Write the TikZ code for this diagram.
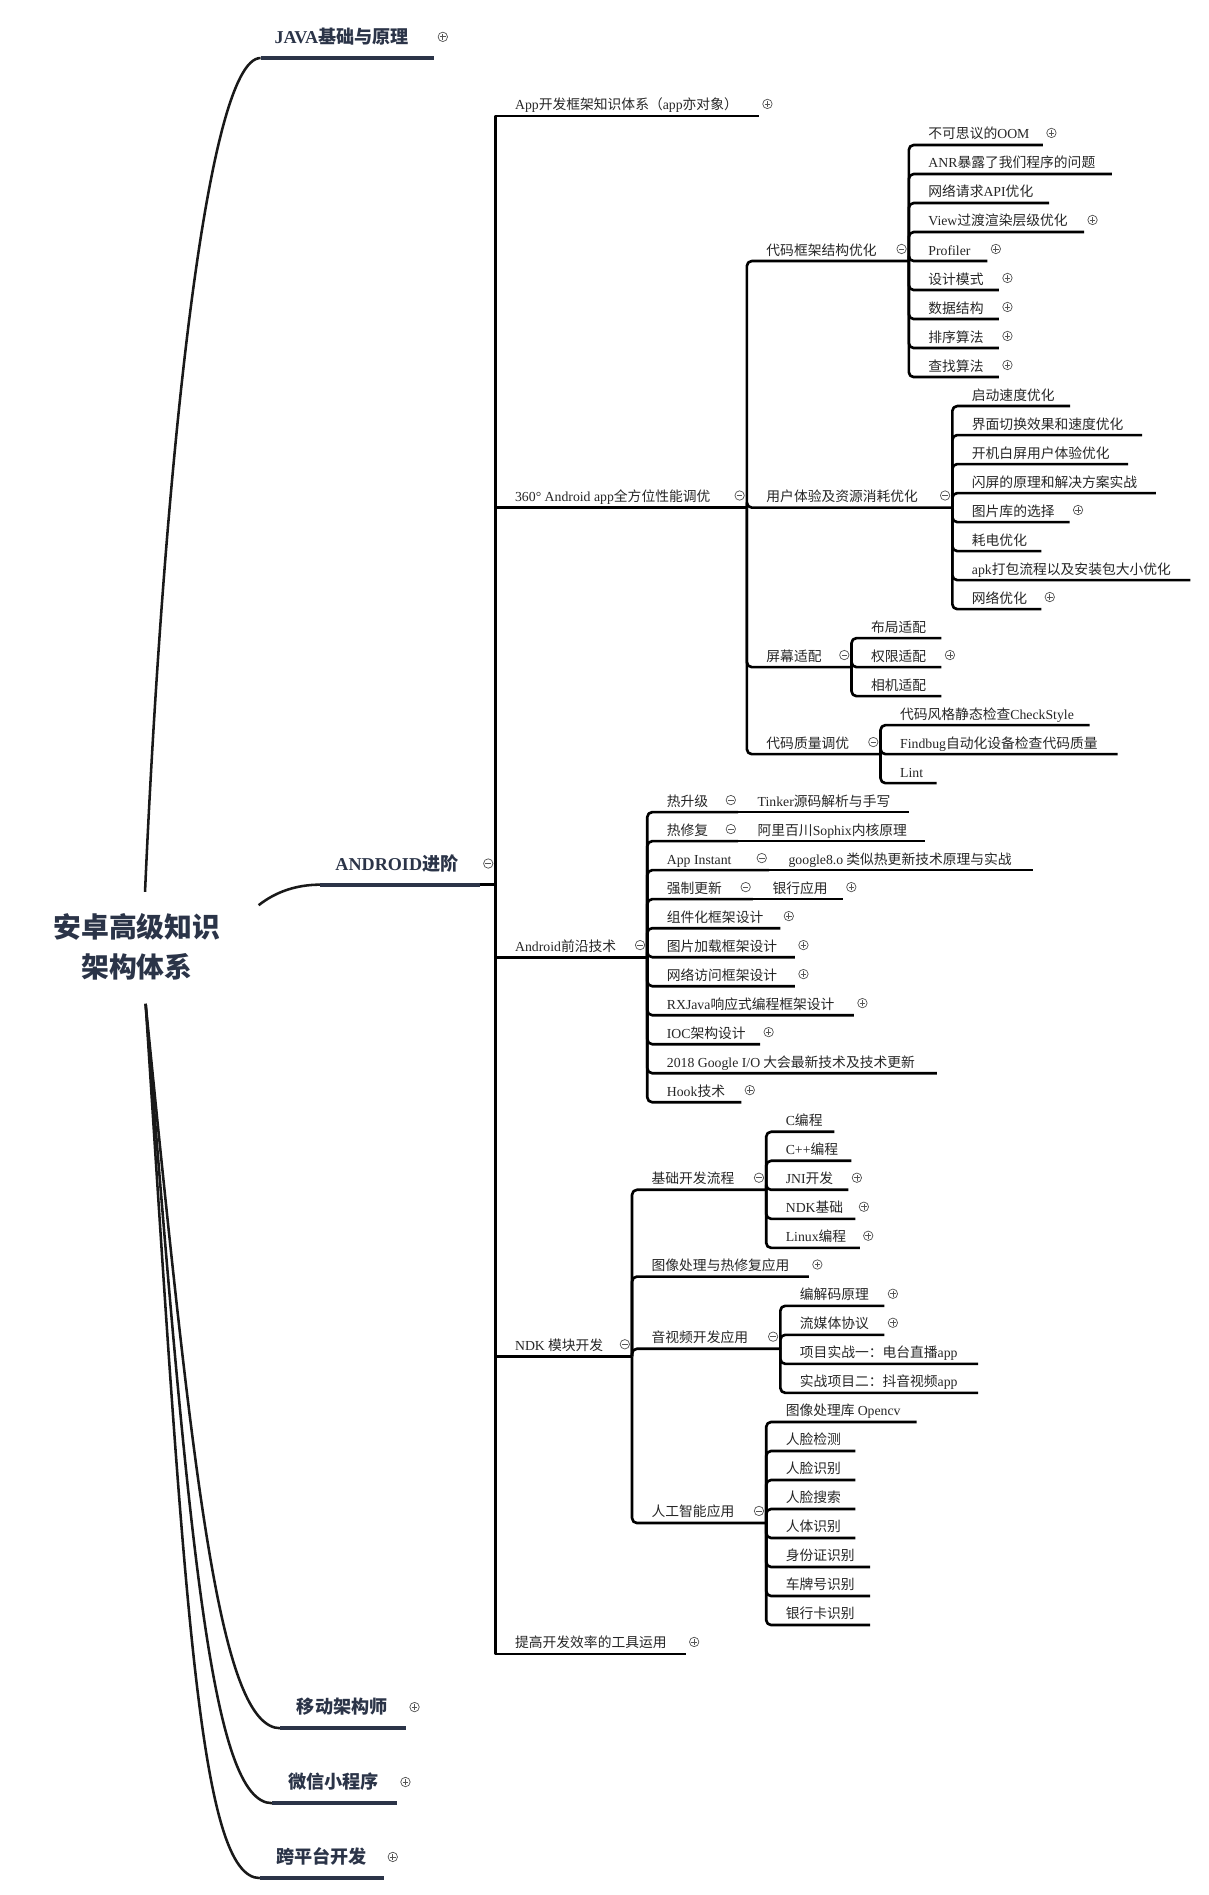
\documentclass[tikz,border=0pt]{standalone}
\usepackage{fontspec}
\setmainfont{Noto Sans CJK SC}
\newfontfamily\enfont{Liberation Serif}
\usepackage{tikz}
\usetikzlibrary{calc}
\definecolor{mind@navy}{RGB}{43,52,72}
\definecolor{mind@ink}{RGB}{38,38,38}
\definecolor{mind@fold}{RGB}{85,85,85}
\tikzset{
  mindmap/.style={x=1pt, y=-1pt, line join=round},
  rootnode/.style={                % central topic
    align=center, inner sep=0pt,
    text=mind@navy,
    font=\fontsize{23}{32.5}\selectfont\bfseries
  },
  topicnode/.style={               % main branch label
    anchor=base west, inner sep=0pt,
    text=mind@navy,
    font=\fontsize{15}{18}\selectfont\bfseries
  },
  itemnode/.style={                % sub branch label
    anchor=base west, inner sep=0pt,
    text=mind@ink,
    font=\fontsize{11.4}{13}\selectfont
  },
  rootcurve/.style={draw=black!90, line width=2.1pt},
  topline/.style={draw=mind@navy, line width=3.3pt},
  branch/.style={draw=black, line width=2.2pt, rounded corners=4pt},
  trunk/.style={branch, sharp corners},
  foldm/.style={
    circle, draw=mind@fold, line width=0.6pt, fill=white,
    minimum size=7.8pt, inner sep=0pt,
    path picture={\draw[mind@fold, line width=0.6pt]
      ([xshift=-2.3pt]path picture bounding box.center) -- ([xshift=2.3pt]path picture bounding box.center);}
  },
  foldp/.style={
    foldm,
    path picture={\draw[mind@fold, line width=0.6pt]
      ([xshift=-2.3pt]path picture bounding box.center) -- ([xshift=2.3pt]path picture bounding box.center)
      ([yshift=-2.3pt]path picture bounding box.center) -- ([yshift=2.3pt]path picture bounding box.center);}
  }
}

\begin{document}
\begin{tikzpicture}[mindmap]
\useasboundingbox (0,0) rectangle (1000,1568);

\node[rootnode] (root) at (113.3,783.4) {安卓高级知识\\架构体系};
\coordinate (root-n) at (120,738);
\coordinate (root-s) at (120.5,830.6);
\coordinate (root-e) at (214,749);

\node[topicnode] (java)    at (227,36)     {{\enfont JAVA}基础与原理};
\node[topicnode] (android) at (277.4,720)  {{\enfont ANDROID}进阶};
\node[topicnode] (mobile)  at (245.5,1418) {移动架构师};
\node[topicnode] (wechat)  at (238.5,1480) {微信小程序};
\node[topicnode] (cross)   at (228.3,1542) {跨平台开发};

\coordinate (java-s) at (215.6,48);    \coordinate (java-e) at (359.4,48);
\coordinate (android-s) at (265,732);  \coordinate (android-e) at (397,732);
\coordinate (mobile-s) at (232,1430);  \coordinate (mobile-e) at (336,1430);
\coordinate (wechat-s) at (225,1492);  \coordinate (wechat-e) at (328.5,1492);
\coordinate (cross-s) at (215,1554);   \coordinate (cross-e) at (318,1554);

\draw[rootcurve] (root-n) .. controls (135,400) and (170,48) .. (java-s);
\draw[rootcurve] (root-e) .. controls (228,738) and (245,732) .. (android-s);
\draw[rootcurve] (root-s) .. controls (160.5,1230.6) and (182,1430) .. (mobile-s);
\draw[rootcurve] (root-s) .. controls (156.5,1280.6) and (175,1492) .. (wechat-s);
\draw[rootcurve] (root-s) .. controls (153,1330) and (165,1554) .. (cross-s);
\foreach \n in {java,android,mobile,wechat,cross}
  \draw[topline] (\n-s) -- (\n-e);

% ANDROID trunk
\coordinate (trunk) at (410,732);
\draw[trunk] (android-e) -- (trunk);
\foreach \n/\txt/\yy/\ee in {
    app/{\enfont App}开发框架知识体系（{\enfont app}亦对象）/96/628,
    perf/{\enfont 360° Android app}全方位性能调优/420/618,
    front/{\enfont Android}前沿技术/792/535.6,
    ndk/{\enfont NDK} 模块开发/1122.3/523,
    tool/提高开发效率的工具运用/1368.6/567.4}{
  \coordinate (\n-e) at (\ee,\yy);
  \node[itemnode] (\n) at ([xshift=16pt,yshift=5pt]trunk |- \n-e) {\txt};
  \draw[trunk] (trunk) |- (\n-e);
}

% 360 performance
\foreach \n/\txt/\yy/\ee in {
    code/代码框架结构优化/216/752,
    ux/用户体验及资源消耗优化/420/788,
    screen/屏幕适配/552/704.6,
    quality/代码质量调优/624/728.6}{
  \coordinate (\n-e) at (\ee,\yy);
  \node[itemnode] (\n) at ([xshift=16pt,yshift=5pt]perf-e |- \n-e) {\txt};
  \draw[branch] (perf-e) |- (\n-e);
}
\foreach \n/\txt/\ee [count=\k from 0] in {
    oom/不可思议的{\enfont OOM}/863,
    anr/{\enfont ANR}暴露了我们程序的问题/920,
    api/网络请求{\enfont API}优化/868,
    view/{\enfont View}过渡渲染层级优化/897,
    profiler/{\enfont Profiler}/817,
    design/设计模式/826.6,
    datast/数据结构/826.6,
    sort/排序算法/826.6,
    search/查找算法/826.6}{
  \coordinate (\n-e) at (\ee,120+24*\k);
  \node[itemnode] (\n) at ([xshift=16pt,yshift=5pt]code-e |- \n-e) {\txt};
  \draw[branch] (code-e) |- (\n-e);
}
\foreach \n/\txt/\ee [count=\k from 0] in {
    launch/启动速度优化/885.4,
    switch/界面切换效果和速度优化/945,
    splash/开机白屏用户体验优化/933.5,
    flash/闪屏的原理和解决方案实战/956.5,
    imglib/图片库的选择/885,
    power/耗电优化/861.6,
    apk/{\enfont apk}打包流程以及安装包大小优化/985,
    netopt/网络优化/861.6}{
  \coordinate (\n-e) at (\ee,336+24*\k);
  \node[itemnode] (\n) at ([xshift=16pt,yshift=5pt]ux-e |- \n-e) {\txt};
  \draw[branch] (ux-e) |- (\n-e);
}
\foreach \n/\txt/\ee [count=\k from 0] in {
    layout/布局适配/779, perm/权限适配/779, camera/相机适配/779}{
  \coordinate (\n-e) at (\ee,528+24*\k);
  \node[itemnode] (\n) at ([xshift=16pt,yshift=5pt]screen-e |- \n-e) {\txt};
  \draw[branch] (screen-e) |- (\n-e);
}
\foreach \n/\txt/\ee [count=\k from 0] in {
    checkstyle/代码风格静态检查{\enfont CheckStyle}/901.6,
    findbug/{\enfont Findbug}自动化设备检查代码质量/924.7,
    lint/{\enfont Lint}/775}{
  \coordinate (\n-e) at (\ee,600+24*\k);
  \node[itemnode] (\n) at ([xshift=16pt,yshift=5pt]quality-e |- \n-e) {\txt};
  \draw[branch] (quality-e) |- (\n-e);
}

% Android frontier
\foreach \n/\txt/\ee [count=\k from 0] in {
    hotup/热升级/610.7,
    hotfix/热修复/610.7,
    instant/{\enfont App Instant}/636.3,
    force/强制更新/623,
    comp/组件化框架设计/645.7,
    imgload/图片加载框架设计/657.8,
    netfw/网络访问框架设计/657.8,
    rx/{\enfont RXJava}响应式编程框架设计/706.6,
    ioc/{\enfont IOC}架构设计/629,
    gio/{\enfont 2018 Google I/O} 大会最新技术及技术更新/775.3,
    hook/{\enfont Hook}技术/613.4}{
  \coordinate (\n-e) at (\ee,672+24*\k);
  \node[itemnode] (\n) at ([xshift=16pt,yshift=5pt]front-e |- \n-e) {\txt};
  \draw[branch] (front-e) |- (\n-e);
}
\foreach \p/\n/\txt/\yy/\ee in {
    hotup/tinker/{\enfont Tinker}源码解析与手写/672/752,
    hotfix/sophix/阿里百川{\enfont Sophix}内核原理/696/765,
    instant/google/{\enfont google8.o} 类似热更新技术原理与实战/720/854.8,
    force/bank/银行应用/744/697.4}{
  \coordinate (\n-e) at (\ee,\yy);
  \node[itemnode] (\n) at ([xshift=16pt,yshift=5pt]\p-e) {\txt};
  \draw[branch] (\p-e) -- (\n-e);
}

% NDK
\foreach \n/\txt/\yy/\ee in {
    basic/基础开发流程/984.5/634,
    imgfix/图像处理与热修复应用/1056.3/669.3,
    av/音视频开发应用/1116/645.7,
    ai/人工智能应用/1260.2/634}{
  \coordinate (\n-e) at (\ee,\yy);
  \node[itemnode] (\n) at ([xshift=16pt,yshift=5pt]ndk-e |- \n-e) {\txt};
  \draw[branch] (ndk-e) |- (\n-e);
}
\foreach \n/\txt/\ee [count=\k from 0] in {
    cprog/{\enfont C}编程/690.4,
    cpp/{\enfont C++}编程/704.5,
    jni/{\enfont JNI}开发/702,
    ndkbase/{\enfont NDK}基础/707.8,
    linux/{\enfont Linux}编程/711.4}{
  \coordinate (\n-e) at (\ee,936.5+24*\k);
  \node[itemnode] (\n) at ([xshift=16pt,yshift=5pt]basic-e |- \n-e) {\txt};
  \draw[branch] (basic-e) |- (\n-e);
}
\foreach \n/\txt/\ee [count=\k from 0] in {
    codec/编解码原理/731.8,
    stream/流媒体协议/731.8,
    radio/项目实战一：电台直播{\enfont app}/809.4,
    douyin/实战项目二：抖音视频{\enfont app}/809.4}{
  \coordinate (\n-e) at (\ee,1080.5+24*\k);
  \node[itemnode] (\n) at ([xshift=16pt,yshift=5pt]av-e |- \n-e) {\txt};
  \draw[branch] (av-e) |- (\n-e);
}
\foreach \n/\txt/\ee [count=\k from 0] in {
    opencv/图像处理库 {\enfont Opencv}/758.4,
    facedet/人脸检测/707.8,
    facerec/人脸识别/707.8,
    facesearch/人脸搜索/707.8,
    bodyrec/人体识别/707.8,
    idcard/身份证识别/720,
    plate/车牌号识别/720,
    bankcard/银行卡识别/720}{
  \coordinate (\n-e) at (\ee,1176.6+24*\k);
  \node[itemnode] (\n) at ([xshift=16pt,yshift=5pt]ai-e |- \n-e) {\txt};
  \draw[branch] (ai-e) |- (\n-e);
}

% fold markers
\foreach \n in {java,mobile,wechat,cross}
  \node[foldp] (\n-f) at ([xshift=7pt,yshift=17.5pt]\n-e) {};
\node[foldm] (android-f) at ([xshift=-6pt,yshift=17.5pt]trunk) {};
\foreach \n in {app,tool,oom,view,profiler,design,datast,sort,search,imglib,netopt,perm,
    bank,comp,imgload,netfw,rx,ioc,hook,jni,ndkbase,linux,imgfix,codec,stream}
  \node[foldp] (\n-f) at ([xshift=7pt,yshift=10pt]\n-e) {};
\foreach \n in {perf,code,ux,screen,quality,front,hotup,hotfix,instant,force,ndk,basic,av,ai}
  \node[foldm] (\n-f) at ([xshift=-6pt,yshift=10pt]\n-e) {};

\end{tikzpicture}
\end{document}
